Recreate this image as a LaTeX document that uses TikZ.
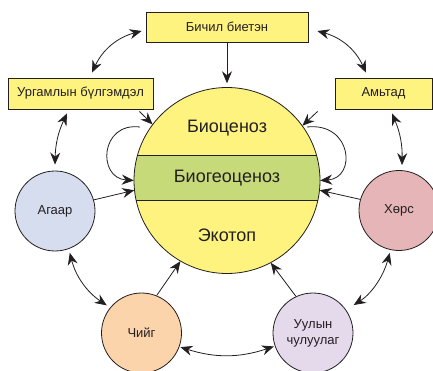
\documentclass[tikz,border=0pt]{standalone}
\usepackage{fontspec}
\setmainfont{Liberation Sans}
\usetikzlibrary{arrows.meta,calc}
\definecolor{boxy}{RGB}{255,243,128}
\definecolor{bandg}{RGB}{199,218,122}
\definecolor{airc}{RGB}{213,221,239}
\definecolor{soilc}{RGB}{229,181,183}
\definecolor{humc}{RGB}{251,212,171}
\definecolor{rockc}{RGB}{229,217,236}
\definecolor{edge}{RGB}{35,31,32}
\begin{document}
\begin{tikzpicture}[x=1pt,y=-1pt,
  lbl/.style={text=edge, font=\fontsize{13}{16}\selectfont},
  bigtxt/.style={text=edge, font=\fontsize{18}{20}\selectfont},
  rbox/.style={draw=edge, fill=boxy, line width=0.8pt, inner sep=0pt, lbl},
  ball/.style={circle, draw=edge, line width=0.8pt, minimum size=80pt, inner sep=0pt, lbl, align=center},
  tip/.tip={Stealth[length=12pt,width=10pt,inset=4pt]},
  arr/.style={draw=edge, line width=0.8pt, -tip},
  darr/.style={draw=edge, line width=0.8pt, tip-tip}]
\useasboundingbox (0,0) rectangle (433,371);
\clip (0,0) rectangle (433,371);
% boxes
\node[rbox, minimum width=162pt, minimum height=30pt] (mic) at (227,27) {Бичил биетэн};
\node[rbox, minimum width=145pt, minimum height=31pt] (pl) at (80.5,93.5) {Ургамлын бүлгэмдэл};
\node[rbox, minimum width=97pt, minimum height=31pt] (an) at (383.5,93.5) {Амьтад};
% big circle
\node[circle, fill=boxy, minimum size=186pt, inner sep=0pt] (big) at (227,180.5) {};
\begin{scope}
  \clip (227,180.5) circle (93);
  \fill[bandg] (120,155) rectangle (340,200);
  \draw[edge, line width=0.6pt] (120,155) -- (340,155) (120,200) -- (340,200);
\end{scope}
\node[circle, draw=edge, line width=0.8pt, minimum size=186pt, inner sep=0pt] at (big.center) {};
\node[bigtxt] (t1) at (227,128) {Биоценоз};
\node[bigtxt] (t2) at (227,178.5) {Биогеоценоз};
\node[bigtxt] (t3) at (227,235) {Экотоп};
% small circles
\node[ball, fill=airc] (air) at (55,211) {Агаар};
\node[ball, fill=soilc] (soil) at (399,210.5) {Хөрс};
\node[ball, fill=humc] (hum) at (141.5,333) {Чийг};
\node[ball, fill=rockc] (rock) at (313,333) {Уулын\\чулуулаг};
% connectors
\draw[arr, shorten >=4pt] (mic.south) -- (big.north);
\draw[darr] ($(mic.west)+(-4,4)$) to[bend right=25] ($(pl.north)+(11.5,-5)$);
\draw[darr] ($(mic.east)+(9,4)$) to[bend left=25] ($(an.north)+(-17.5,-5)$);
\draw[darr] ($(pl.south)+(-13.5,4)$) to[bend right=12] ($(air.north)+(0,-6)$);
\draw[darr] ($(an.south)+(8.5,4)$) to[bend left=12] ($(soil.north)+(3,-5)$);
\draw[arr] ($(pl.south east)+(-14,2)$) -- (big.143);
\draw[arr] ($(an.south west)+(-17,2)$) -- (big.36);
\coordinate (lls) at (140,127);
\coordinate (rls) at (307,127);
\draw[arr] (lls) .. controls (100,122) and (97,178) .. (big.180);
\draw[arr] (rls) .. controls (352,122) and (357,178) .. (big.0);
\draw[arr] (air.16) -- (big.186);
\draw[arr] (soil.164) -- (big.354);
\draw[darr, shorten <=4pt, shorten >=4pt] (air.290) to[bend right=21] (hum.141);
\draw[darr, shorten <=3pt, shorten >=9pt] (soil.258) to[bend left=21] (rock.35);
\draw[darr, shorten <=1pt, shorten >=1pt] (hum.-20) to[bend right=18] (rock.199);
\draw[arr] (hum.68) -- (big.240.5);
\draw[arr] (rock.115) -- (big.298.6);
\end{tikzpicture}
\end{document}
